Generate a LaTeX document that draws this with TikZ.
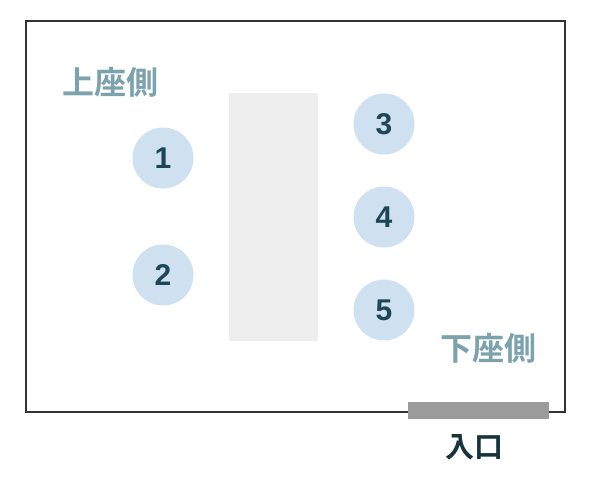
\documentclass[tikz,border=0pt]{standalone}
\usepackage{fontspec}
\setmainfont{Liberation Sans}
\newfontfamily\jpfont{Noto Sans CJK JP Bold}
\usepackage{tikz}
\definecolor{seatblue}{HTML}{CFE0F0}
\definecolor{seattext}{HTML}{1D4656}
\definecolor{sidetext}{HTML}{7CA2AD}
\definecolor{tablegray}{HTML}{EEEEEE}
\definecolor{doorgray}{HTML}{9B9B9B}
\definecolor{doortext}{HTML}{17333D}

\begin{document}
\begin{tikzpicture}[x=1pt,y=-1pt]
         \tikzset{seat/.style={circle,fill=seatblue,minimum size=61pt,inner sep=0pt,
                  text=seattext,font=\fontsize{30}{30}\selectfont\bfseries}}
         \tikzset{side/.style={text=sidetext,font=\jpfont\fontsize{32}{32}\selectfont}}
         \useasboundingbox (0,0) rectangle (600,479);
         % room and table
         \draw[line width=1.2pt,black!80] (26,21) rectangle (565,412);
         \fill[tablegray] (229,93) rectangle (318,341);
         % door
         \fill[doorgray] (408,402) rectangle (549,419);
         \node[text=doortext,font=\jpfont\fontsize{29}{29}\selectfont] (entry) at (474,447) {入口};
         % seats
         \node[seat] (s1) at (163,158) {1};
         \node[seat] (s2) at (163,275) {2};
         \node[seat] (s3) at (384,124) {3};
         \node[seat] (s4) at (384,217) {4};
         \node[seat] (s5) at (384,310) {5};
         % sides
         \node[side] (upper) at (110,82) {上座側};
         \node[side] (lower) at (488,348) {下座側};
\end{tikzpicture}
\end{document}
